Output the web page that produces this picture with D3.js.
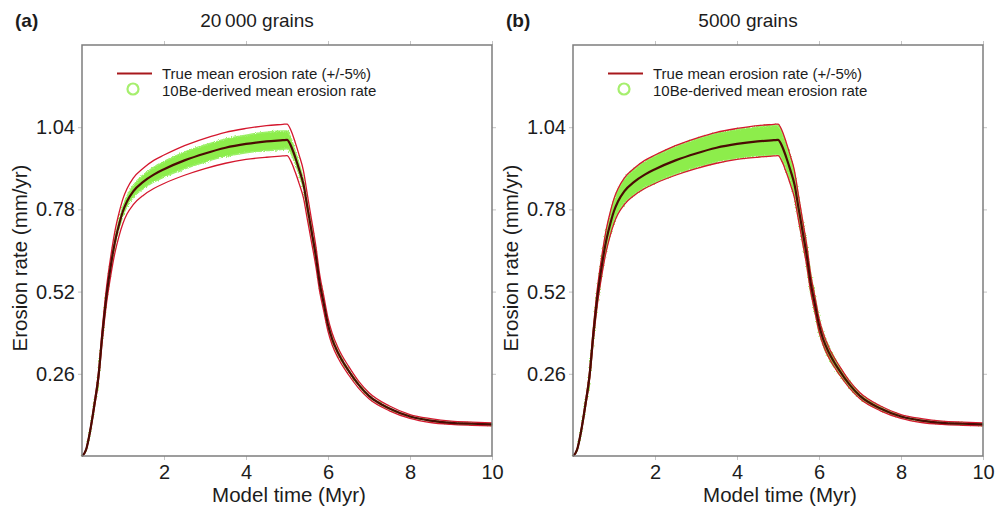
<!DOCTYPE html>
<html>
<head>
<meta charset="utf-8">
<script src="https://cdn.jsdelivr.net/npm/d3@7"></script>
<style>
  body { margin: 0; background: #fff; }
  text { font-family: "Liberation Sans", Arial, Helvetica, sans-serif; fill: #1c1c1c; }
</style>
</head>
<body>
<svg id="chart" width="996" height="508"></svg>
<script>
// model time (Myr)
const times = [0, 0.1, 0.2, 0.3, 0.4, 0.5, 0.6, 0.7, 0.8, 0.9,
  1.0, 1.1, 1.25, 1.5, 1.75, 2, 2.5, 3, 3.5, 4,
  4.5, 4.9, 5.0, 5.1, 5.2, 5.3, 5.4, 5.5, 5.6, 5.7,
  5.8, 5.9, 6.0, 6.1, 6.25, 6.5, 6.75, 7.0, 7.5, 8.0,
  8.5, 9.0, 9.5, 10];

// true mean erosion rate (mm/yr)
const meanRate = [0, 0.02, 0.08, 0.16, 0.25, 0.39, 0.51, 0.60, 0.675, 0.73,
  0.775, 0.806, 0.837, 0.868, 0.89, 0.907, 0.935, 0.957, 0.975, 0.987,
  0.995, 0.999, 1.0, 0.98, 0.945, 0.905, 0.86, 0.785, 0.71, 0.635,
  0.545, 0.48, 0.415, 0.37, 0.325, 0.27, 0.225, 0.19, 0.15, 0.125,
  0.112, 0.105, 0.102, 0.10];

// +5% envelope
const upperRate = [0, 0.021, 0.084, 0.168, 0.263, 0.410, 0.536, 0.630, 0.709, 0.767,
  0.814, 0.846, 0.879, 0.911, 0.935, 0.952, 0.982, 1.005, 1.024, 1.036,
  1.045, 1.049, 1.05, 1.029, 0.992, 0.950, 0.903, 0.824, 0.746, 0.667,
  0.572, 0.504, 0.436, 0.389, 0.341, 0.284, 0.236, 0.200, 0.158, 0.131,
  0.118, 0.110, 0.107, 0.105];

// -5% envelope
const lowerRate = [0, 0.019, 0.076, 0.152, 0.238, 0.371, 0.485, 0.570, 0.641, 0.694,
  0.736, 0.766, 0.795, 0.825, 0.846, 0.862, 0.888, 0.909, 0.926, 0.938,
  0.945, 0.949, 0.95, 0.931, 0.898, 0.860, 0.817, 0.746, 0.675, 0.603,
  0.518, 0.456, 0.394, 0.352, 0.309, 0.257, 0.214, 0.181, 0.143, 0.119,
  0.106, 0.100, 0.097, 0.095];

// relative half-width of the 10Be-derived cloud
const spread20000 = [0.004, 0.004, 0.005, 0.006, 0.007, 0.008, 0.01, 0.012, 0.014, 0.016,
  0.018, 0.02, 0.022, 0.025, 0.026, 0.027, 0.028, 0.028, 0.028, 0.028,
  0.029, 0.029, 0.028, 0.024, 0.02, 0.018, 0.016, 0.015, 0.015, 0.015,
  0.015, 0.015, 0.015, 0.015, 0.014, 0.013, 0.012, 0.011, 0.01, 0.01,
  0.01, 0.01, 0.01, 0.01];

const spread5000 = [0.01, 0.015, 0.02, 0.025, 0.03, 0.034, 0.038, 0.04, 0.042, 0.044,
  0.045, 0.046, 0.046, 0.047, 0.047, 0.047, 0.047, 0.047, 0.047, 0.047,
  0.047, 0.047, 0.047, 0.045, 0.044, 0.044, 0.045, 0.046, 0.048, 0.05,
  0.052, 0.054, 0.055, 0.055, 0.055, 0.05, 0.045, 0.04, 0.03, 0.022,
  0.018, 0.015, 0.015, 0.015];

const xTicks = [2, 4, 6, 8, 10];
const yTicks = [0.26, 0.52, 0.78, 1.04];

const panels = [
  { tag: '(a)', title: '20\u2009000 grains', spread: spread20000, left: 82 },
  { tag: '(b)', title: '5000 grains', spread: spread5000, left: 573 },
];

const plotTop = 45;
const width = 410;
const height = 411;

const svg = d3.select('#chart');

// rough, speckled edge for the point cloud
const fuzz = svg.append('defs').append('filter').attr('id', 'fuzz');
fuzz.append('feTurbulence')
  .attr('type', 'fractalNoise')
  .attr('baseFrequency', 1.2)
  .attr('numOctaves', 1)
  .attr('seed', 3)
  .attr('result', 'noise');
fuzz.append('feDisplacementMap')
  .attr('in', 'SourceGraphic')
  .attr('in2', 'noise')
  .attr('scale', 3.5)
  .attr('xChannelSelector', 'R')
  .attr('yChannelSelector', 'G');

const x = d3.scaleLinear().domain([0, 10]).range([0, width]);
const y = d3.scaleLinear().domain([0, 1.3]).range([height, 0]);

function drawPanel(panel) {
  const g = svg.append('g').attr('transform', `translate(${panel.left},${plotTop})`);

  const rows = times.map((t, i) => ({
    t,
    mean: meanRate[i],
    upper: upperRate[i],
    lower: lowerRate[i],
    cloudHi: meanRate[i] * (1 + panel.spread[i]),
    cloudLo: meanRate[i] * (1 - panel.spread[i]),
  }));

  // light outward ticks on all four sides
  const tickStyle = (sel) => {
    sel.select('.domain').remove();
    sel.selectAll('.tick line').attr('stroke', '#c4c4c4');
    sel.selectAll('.tick text')
      .attr('font-size', 20)
      .attr('font-family', '"Liberation Sans", Arial, sans-serif')
      .attr('fill', '#1c1c1c');
  };

  g.append('g')
    .attr('transform', `translate(0,${height})`)
    .call(d3.axisBottom(x).tickValues(xTicks).tickSize(4).tickPadding(4.5).tickFormat(d3.format('d')))
    .call(tickStyle);

  g.append('g')
    .call(d3.axisTop(x).tickValues(xTicks).tickSize(4).tickFormat(''))
    .call(tickStyle);

  g.append('g')
    .call(d3.axisLeft(y).tickValues(yTicks).tickSize(4).tickPadding(3).tickFormat(d3.format('.2f')))
    .call(tickStyle);

  g.append('g')
    .attr('transform', `translate(${width},0)`)
    .call(d3.axisRight(y).tickValues(yTicks).tickSize(4).tickFormat(''))
    .call(tickStyle);

  // 10Be-derived cloud
  const cloud = d3.area()
    .x((d) => x(d.t))
    .y0((d) => y(d.cloudLo))
    .y1((d) => y(d.cloudHi))
    .curve(d3.curveMonotoneX);

  g.append('path')
    .datum(rows)
    .attr('d', cloud)
    .attr('fill', '#8ded4c')
    .attr('stroke', '#9df06a')
    .attr('stroke-width', 1.5)
    .attr('filter', 'url(#fuzz)');

  const line = (key) => d3.line()
    .x((d) => x(d.t))
    .y((d) => y(d[key]))
    .curve(d3.curveMonotoneX);

  ['upper', 'lower'].forEach((key) => {
    g.append('path')
      .datum(rows)
      .attr('d', line(key))
      .attr('fill', 'none')
      .attr('stroke', '#d4172e')
      .attr('stroke-width', 1.3);
  });

  g.append('path')
    .datum(rows)
    .attr('d', line('mean'))
    .attr('fill', 'none')
    .attr('stroke', '#4a0b04')
    .attr('stroke-width', 2.2);

  // frame
  g.append('rect')
    .attr('width', width)
    .attr('height', height)
    .attr('fill', 'none')
    .attr('stroke', '#7d7d7d')
    .attr('stroke-width', 1.5);

  // legend
  const legend = g.append('g');
  legend.append('line')
    .attr('x1', 35).attr('x2', 70)
    .attr('y1', 28.5).attr('y2', 28.5)
    .attr('stroke', '#a8181c')
    .attr('stroke-width', 2);
  legend.append('text')
    .attr('x', 80).attr('y', 34)
    .attr('font-size', 15)
    .text('True mean erosion rate (+/-5%)');
  legend.append('circle')
    .attr('cx', 51).attr('cy', 44)
    .attr('r', 5.5)
    .attr('fill', 'none')
    .attr('stroke', '#a6ef6e')
    .attr('stroke-width', 2.2);
  legend.append('text')
    .attr('x', 80).attr('y', 51)
    .attr('font-size', 15)
    .text('10Be-derived mean erosion rate');

  // titles
  svg.append('text')
    .attr('x', panel.left - 67).attr('y', 27)
    .attr('font-size', 19)
    .attr('font-weight', 'bold')
    .text(panel.tag);

  svg.append('text')
    .attr('x', panel.left + 175).attr('y', 27)
    .attr('text-anchor', 'middle')
    .attr('font-size', 19)
    .text(panel.title);

  svg.append('text')
    .attr('x', panel.left + width / 2 + 2).attr('y', 502)
    .attr('text-anchor', 'middle')
    .attr('font-size', 20.5)
    .text('Model time (Myr)');

  svg.append('text')
    .attr('transform', `translate(${panel.left - 55},258) rotate(-90)`)
    .attr('text-anchor', 'middle')
    .attr('font-size', 20.5)
    .text('Erosion rate (mm/yr)');
}

panels.forEach(drawPanel);
</script>
</body>
</html>
